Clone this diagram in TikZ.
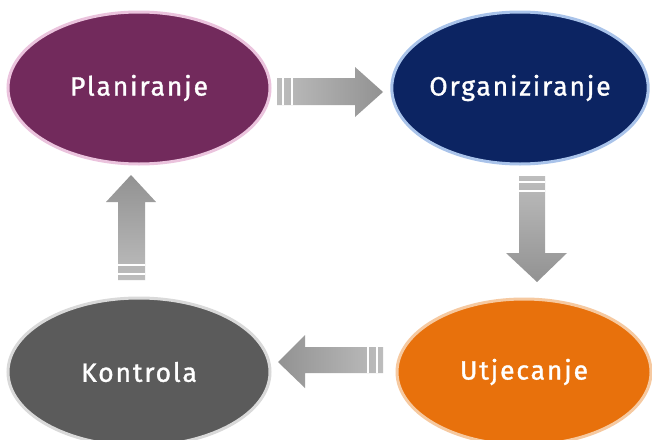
\documentclass[tikz,border=0pt]{standalone}
\usepackage{fontspec}
\newfontfamily\lblfont[LetterSpace=7,FakeBold=1.2]{Fira Sans}
\usetikzlibrary{shapes.geometric}
\definecolor{plan}{HTML}{722A5C}
\definecolor{planb}{HTML}{EBC3DD}
\definecolor{org}{HTML}{0C2462}
\definecolor{orgb}{HTML}{A9C3EA}
\definecolor{kon}{HTML}{5B5B5B}
\definecolor{konb}{HTML}{D9D9D9}
\definecolor{utj}{HTML}{E8710C}
\definecolor{utjb}{HTML}{F6C9A0}
\definecolor{arlight}{HTML}{BDBDBD}
\definecolor{ardark}{HTML}{929292}
\tikzset{
  phase/.style={ellipse, line width=3pt, text=white, inner sep=0pt,
    font=\lblfont\fontsize{26.5}{30}\selectfont},
  stripe/.style={white, line width=2pt}
}
\begin{document}
\begin{tikzpicture}[x=1pt,y=-1pt]
\useasboundingbox (0,0) rectangle (652,439);
\fill[white] (0,0) rectangle (652,439);
% ellipses
\node[phase, draw=planb, fill=plan, minimum width=262pt, minimum height=152pt] (plan) at (139,88) {Planiranje};
\node[phase, draw=orgb, fill=org, minimum width=256pt, minimum height=152pt] (org) at (520,88) {Organiziranje};
\node[phase, draw=konb, fill=kon, minimum width=262pt, minimum height=148pt] (kon) at (139,372) {Kontrola};
\node[phase, draw=utjb, fill=utj, minimum width=254pt, minimum height=146pt] (utj) at (524,372) {Utjecanje};
% right arrow
\shade[left color=arlight, right color=ardark]
  (277,78) -- (355,78) -- (355,67) -- (383,92) -- (355,117) -- (355,105) -- (277,105) -- cycle;
\draw[stripe] (283,78) -- (283,105);
\draw[stripe] (292,78) -- (292,105);
% down arrow
\shade[top color=arlight, bottom color=ardark]
  (519,176) -- (545,176) -- (545,253) -- (567,253) -- (537,282) -- (506,253) -- (519,253) -- cycle;
\draw[stripe] (519,182) -- (545,182);
\draw[stripe] (519,191) -- (545,191);
% left arrow
\shade[right color=arlight, left color=ardark]
  (383,347) -- (305,347) -- (305,335) -- (278,362) -- (305,388) -- (305,373) -- (383,373) -- cycle;
\draw[stripe] (377,347) -- (377,373);
\draw[stripe] (368,347) -- (368,373);
% up arrow
\shade[bottom color=arlight, top color=ardark]
  (118,280) -- (145,280) -- (145,202) -- (156,202) -- (131,175) -- (106,202) -- (118,202) -- cycle;
\draw[stripe] (118,274) -- (145,274);
\draw[stripe] (118,265) -- (145,265);
\end{tikzpicture}
\end{document}
